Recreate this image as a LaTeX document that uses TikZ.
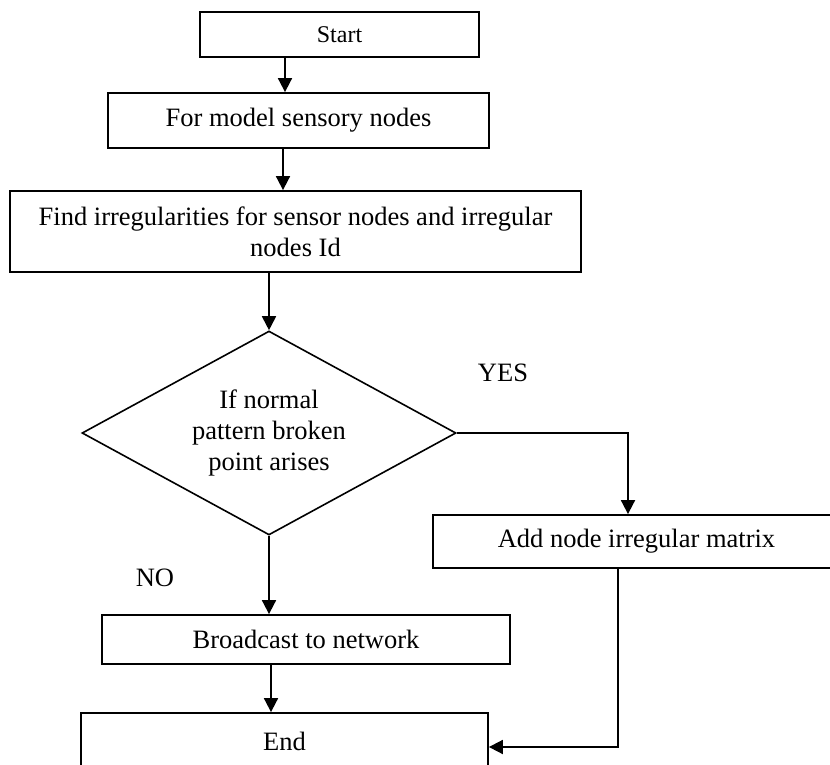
\documentclass[tikz,border=0pt]{standalone}
\usepackage{fontspec}
\setmainfont{Liberation Serif}
\usetikzlibrary{shapes.geometric,arrows.meta}
\begin{document}
\begin{tikzpicture}[x=1pt,y=-1pt,
    box_style/.style={rectangle,draw=black,line width=1.8pt,inner sep=0pt,align=center,font=\fontsize{26.5}{31}\selectfont},
    decision_style/.style={diamond,draw=black,line width=1.6pt,inner sep=0pt,aspect=1.83,minimum width=374pt,minimum height=204pt,align=center,font=\fontsize{26.5}{31}\selectfont},
    label_style/.style={font=\fontsize{26.5}{31}\selectfont},
    edge_style/.style={draw=black,line width=1.8pt,-{Triangle[length=14pt,width=14pt]}}]
    \useasboundingbox (0,0) rectangle (830,765);
    \node[box_style,minimum width=279pt,minimum height=45pt,font=\fontsize{24}{28}\selectfont] (start) at (339.5,34.5) {Start};
    \node[box_style,minimum width=381pt,minimum height=55pt] (model) at (298.5,120.5) {For model sensory nodes};
    \node[box_style,minimum width=571pt,minimum height=81pt] (find) at (295.5,231.5) {Find irregularities for sensor nodes and irregular\\nodes Id};
    \node[decision_style] (dec) at (269,433) {If normal\\pattern broken\\point arises};
    \node[box_style,minimum width=407pt,minimum height=53pt] (add) at (636.5,541.5) {Add node irregular matrix};
    \node[box_style,minimum width=408pt,minimum height=49pt] (bcast) at (306,639.5) {Broadcast to network};
    \node[box_style,minimum width=407pt,minimum height=56pt] (end) at (284.5,741) {End};
    \node[label_style] (yes) at (503,373) {YES};
    \node[label_style] (no) at (155,578) {NO};
    \draw[edge_style] ([xshift=-54.5pt]start.south) -- ([xshift=-54.5pt]start.south |- model.north);
    \draw[edge_style] ([xshift=-15.5pt]model.south) -- ([xshift=-15.5pt]model.south |- find.north);
    \draw[edge_style] (find.south -| dec.north) -- (dec.north);
    \draw[edge_style] (dec.east) -| ([xshift=-8.5pt]add.north);
    \draw[edge_style] (dec.south) -- (dec.south |- bcast.north);
    \draw[edge_style] ([xshift=-35pt]bcast.south) -- ([xshift=-35pt]bcast.south |- end.north);
    \draw[edge_style] ([xshift=-18.5pt]add.south) |- ([yshift=-6pt]end.east);
\end{tikzpicture}
\end{document}
